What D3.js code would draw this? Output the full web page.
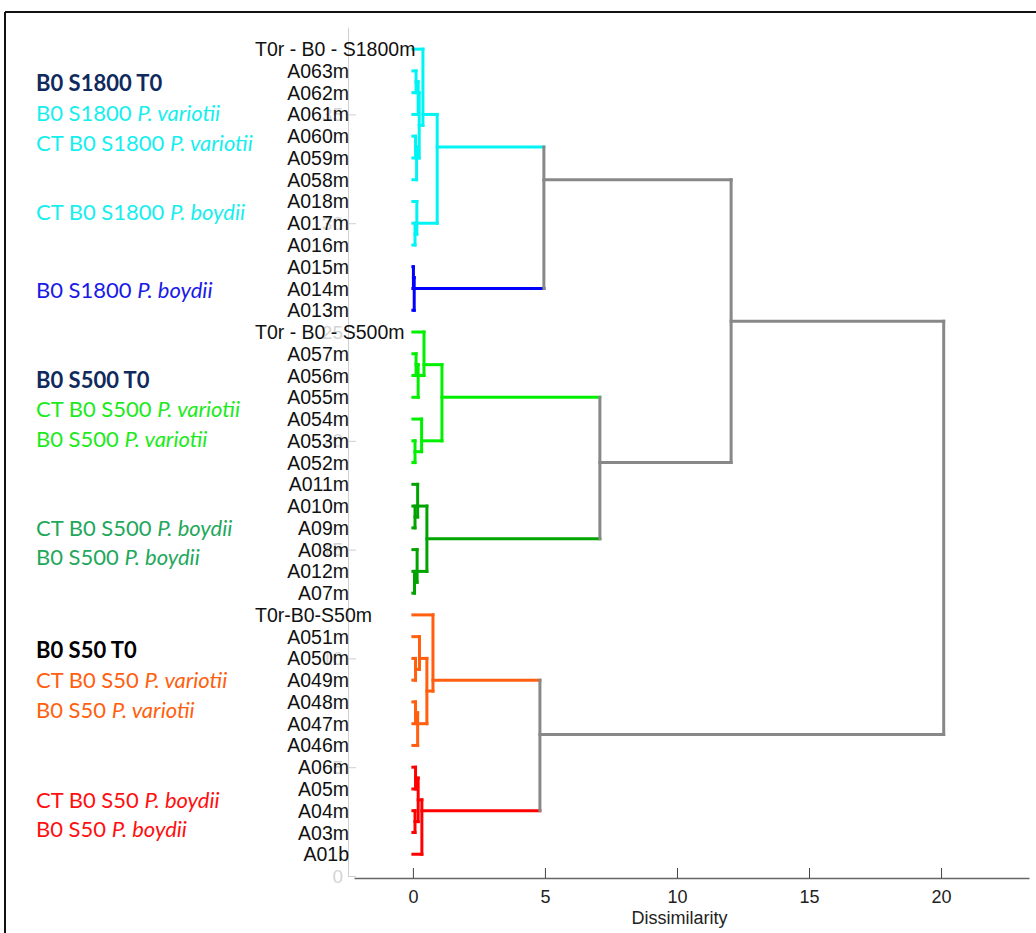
<!DOCTYPE html>
<html>
<head>
<meta charset="utf-8">
<script src="https://cdn.jsdelivr.net/npm/d3@7"></script>
<style>
  body { margin: 0; background: #fff; }
  svg { display: block; }
</style>
</head>
<body>
<svg id="chart" width="1036" height="933"></svg>
<script>
// leaves, top to bottom
const leaves = [
  'T0r - B0 - S1800m', 'A063m', 'A062m', 'A061m', 'A060m', 'A059m', 'A058m',
  'A018m', 'A017m', 'A016m', 'A015m', 'A014m', 'A013m',
  'T0r - B0 - S500m', 'A057m', 'A056m', 'A055m', 'A054m', 'A053m', 'A052m',
  'A011m', 'A010m', 'A09m', 'A08m', 'A012m', 'A07m',
  'T0r-B0-S50m', 'A051m', 'A050m', 'A049m', 'A048m', 'A047m', 'A046m',
  'A06m', 'A05m', 'A04m', 'A03m', 'A01b'
];

// linkage: [node, left, right, dissimilarity, group]
const merges = [
  ['c1', 'A063m', 'A062m', 0.12, 'cyan'],
  ['c2', 'c1', 'A061m', 0.2, 'cyan'],
  ['c3', 'A060m', 'A059m', 0.1, 'cyan'],
  ['c4', 'c3', 'A058m', 0.14, 'cyan'],
  ['c5', 'c2', 'c4', 0.24, 'cyan'],
  ['c6', 'T0r - B0 - S1800m', 'c5', 0.38, 'cyan'],
  ['c7', 'A017m', 'A016m', 0.08, 'cyan'],
  ['c8', 'A018m', 'c7', 0.15, 'cyan'],
  ['c9', 'c6', 'c8', 0.92, 'cyan'],
  ['b1', 'A015m', 'A014m', 0.02, 'blue'],
  ['b2', 'b1', 'A013m', 0.05, 'blue'],
  ['g1', 'c9', 'b2', 4.96, 'gray'],
  ['l1', 'A057m', 'A056m', 0.12, 'lime'],
  ['l2', 'l1', 'A055m', 0.2, 'lime'],
  ['l3', 'T0r - B0 - S500m', 'l2', 0.42, 'lime'],
  ['l4', 'A053m', 'A052m', 0.08, 'lime'],
  ['l5', 'A054m', 'l4', 0.33, 'lime'],
  ['l6', 'l3', 'l5', 1.1, 'lime'],
  ['d1', 'A010m', 'A09m', 0.08, 'green'],
  ['d2', 'A011m', 'd1', 0.18, 'green'],
  ['d3', 'A012m', 'A07m', 0.06, 'green'],
  ['d4', 'A08m', 'd3', 0.16, 'green'],
  ['d5', 'd2', 'd4', 0.53, 'green'],
  ['g2', 'l6', 'd5', 7.08, 'gray'],
  ['g3', 'g1', 'g2', 12.05, 'gray'],
  ['o1', 'A050m', 'A049m', 0.1, 'orange'],
  ['o2', 'A051m', 'o1', 0.25, 'orange'],
  ['o3', 'A048m', 'A047m', 0.1, 'orange'],
  ['o4', 'o3', 'A046m', 0.18, 'orange'],
  ['o5', 'o2', 'o4', 0.53, 'orange'],
  ['o6', 'T0r-B0-S50m', 'o5', 0.76, 'orange'],
  ['r1', 'A06m', 'A05m', 0.1, 'red'],
  ['r2', 'A04m', 'A03m', 0.08, 'red'],
  ['r3', 'r1', 'r2', 0.2, 'red'],
  ['r4', 'r3', 'A01b', 0.34, 'red'],
  ['g4', 'o6', 'r4', 4.81, 'gray'],
  ['g5', 'g3', 'g4', 20.1, 'gray']
];

const xTicks = [0, 5, 10, 15, 20];
const ghostTicks = [0, 5, 10, 15, 20, 25, 30, 35];

// legend: [text, italic part, group, bold]
const legendRows = [
  ['B0 S1800 T0', '', 'navy', true],
  ['B0 S1800 ', 'P. variotii', 'cyan', false],
  ['CT B0 S1800 ', 'P. variotii', 'cyan', false],
  ['CT B0 S1800 ', 'P. boydii', 'cyan', false],
  ['B0 S1800 ', 'P. boydii', 'blue', false],
  ['B0 S500 T0', '', 'navy', true],
  ['CT B0 S500 ', 'P. variotii', 'lime', false],
  ['B0 S500 ', 'P. variotii', 'lime', false],
  ['CT B0 S500 ', 'P. boydii', 'teal', false],
  ['B0 S500 ', 'P. boydii', 'teal', false],
  ['B0 S50 T0', '', 'black', true],
  ['CT B0 S50 ', 'P. variotii', 'orange', false],
  ['B0 S50 ', 'P. variotii', 'orange', false],
  ['CT B0 S50 ', 'P. boydii', 'redText', false],
  ['B0 S50 ', 'P. boydii', 'redText', false]
];
// legend row heights, in leaf units on the faint axis
const legendAt = [36.45, 35.07, 33.69, 30.51, 26.93, 22.79, 21.46, 20.08,
  15.99, 14.66, 10.39, 9.01, 7.63, 3.49, 2.16];

const colors = {
  cyan: '#00f4f4', blue: '#0000ff', lime: '#00f000', green: '#00a400',
  orange: '#ff5f0f', red: '#ff0000', gray: '#888888',
  navy: '#102a5e', teal: '#1fa85c', black: '#000000', redText: '#ff1010'
};
const legendColors = { cyan: '#17eeee', blue: '#1a1ae8', lime: '#1cea1c' };

const svg = d3.select('#chart');

// frame
svg.append('line').attr('x1', 5).attr('x2', 1036).attr('y1', 12).attr('y2', 12)
  .attr('stroke', '#111').attr('stroke-width', 2);
svg.append('line').attr('x1', 5).attr('x2', 5).attr('y1', 12).attr('y2', 933)
  .attr('stroke', '#111').attr('stroke-width', 2);

const x = d3.scaleLinear().domain([-2.23, 23.33]).range([354, 1029]);
// leaf position counted from the bottom like the faint axis
const y = d3.scaleLinear().domain([0, 39]).range([876, 27.4]);

// faint left axis
const ghost = svg.append('g').attr('transform', 'translate(348,0)')
  .call(d3.axisLeft(y).tickValues(ghostTicks).tickSizeInner(-8).tickSizeOuter(0).tickPadding(5));
ghost.select('.domain').attr('stroke', '#cfcfcf');
ghost.selectAll('.tick line').attr('stroke', '#cfcfcf');
ghost.selectAll('.tick text').attr('fill', '#d4d4d4')
  .style('font-family', 'Liberation Sans, Arial, sans-serif').style('font-size', '19px');

// nodes
const nodes = {};
leaves.forEach((name, i) => {
  const v = leaves.length - i;
  nodes[name] = { h: 0, lo: v, hi: v, pos: v, leaf: true };
});
merges.forEach(([id, a, b, h, g]) => {
  const A = nodes[a], B = nodes[b];
  const lo = Math.min(A.lo, B.lo), hi = Math.max(A.hi, B.hi);
  nodes[id] = { h: h, lo: lo, hi: hi, pos: (lo + hi) / 2, leaf: false, group: g, left: a, right: b };
});

const links = svg.append('g').attr('fill', 'none').attr('stroke-width', 3)
  .attr('stroke-linecap', 'square');
merges.forEach(([id, a, b, h, g]) => {
  const n = nodes[id];
  [a, b].forEach(c => {
    const cn = nodes[c];
    links.append('path')
      .attr('d', `M${x(cn.h)},${y(cn.pos)}H${x(n.h)}`)
      .attr('stroke', colors[cn.leaf ? g : cn.group]);
  });
  links.append('path')
    .attr('d', `M${x(n.h)},${y(nodes[a].pos)}V${y(nodes[b].pos)}`)
    .attr('stroke', colors[g]);
});

// leaf labels
svg.append('g').selectAll('text').data(leaves).join('text')
  .attr('x', d => d.startsWith('T0r') ? 255 : 349)
  .attr('y', d => y(nodes[d].pos))
  .attr('dy', '0.36em')
  .attr('text-anchor', d => d.startsWith('T0r') ? 'start' : 'end')
  .style('font-family', 'Liberation Sans, Arial, sans-serif')
  .style('font-size', '19.5px')
  .attr('fill', '#111')
  .text(d => d);

// bottom axis
const ax = svg.append('g').attr('transform', 'translate(0,878)')
  .call(d3.axisBottom(x).tickValues(xTicks).tickSizeInner(-10).tickSizeOuter(0).tickPadding(12));
ax.select('.domain').attr('stroke', '#666').attr('stroke-width', 1.5);
ax.selectAll('.tick line').attr('stroke', '#444');
ax.selectAll('.tick text').attr('fill', '#222')
  .style('font-family', 'Liberation Sans, Arial, sans-serif').style('font-size', '18px');

svg.append('text').attr('x', x(10.1)).attr('y', 924).attr('text-anchor', 'middle')
  .style('font-family', 'Liberation Sans, Arial, sans-serif').style('font-size', '18px')
  .attr('fill', '#222').text('Dissimilarity');

// legend text
const lg = svg.append('g');
legendRows.forEach(([t, it, g, bold], i) => {
  const tx = lg.append('text').attr('x', 36).attr('y', y(legendAt[i])).attr('dy', '0.35em')
    .style('font-family', 'Lato, sans-serif').style('font-size', '22px')
    .style('font-weight', bold ? 'bold' : 'normal')
    .attr('fill', legendColors[g] || colors[g]);
  tx.append('tspan').text(t);
  if (it) tx.append('tspan').style('font-style', 'italic').text(it);
});
</script>
</body>
</html>
